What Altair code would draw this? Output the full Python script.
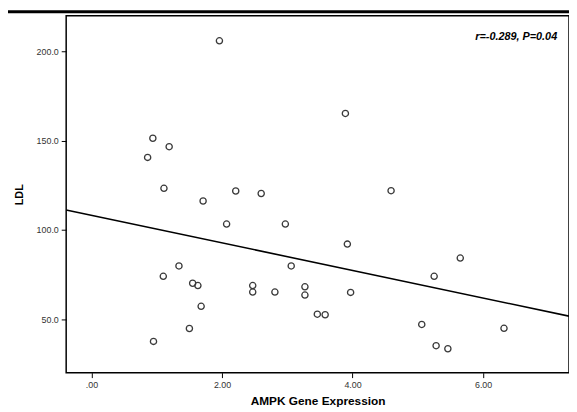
import altair as alt
import pandas as pd

# AMPK gene expression (x) vs LDL (y)
ampk = [1.96, 0.94, 1.19, 0.86, 1.11, 1.71, 2.21, 2.60, 2.07, 2.97, 1.34, 1.10,
        3.06, 1.55, 1.63, 2.47, 2.47, 2.81, 3.27, 3.27, 1.68, 1.50, 0.95, 3.89,
        4.59, 3.92, 5.65, 5.25, 3.97, 3.46, 3.58, 5.06, 6.32, 5.28, 5.46]
ldl = [205.8, 151.3, 146.6, 140.6, 123.3, 116.2, 121.8, 120.4, 103.3, 103.3,
       79.9, 74.1, 79.9, 70.2, 68.9, 68.9, 65.3, 65.3, 68.2, 63.6, 57.3, 44.9,
       37.7, 165.2, 122.0, 92.1, 84.3, 74.1, 65.1, 52.9, 52.6, 47.2, 45.0, 35.3,
       33.6]
# fit line as drawn in the reference (ends of the line)
fit_x = [-0.388, 7.316]
fit_y = [111.2, 51.8]
x_ticks = [0, 2, 4, 6]
y_ticks = [50, 100, 150, 200]
x_domain = [-0.388, 7.316]
y_domain = [20.2, 219.8]
annotation = "r=-0.289, P=0.04"

df = pd.DataFrame({"x": ampk, "y": ldl})
fit_df = pd.DataFrame({"x": fit_x, "y": fit_y})
FONT = "Liberation Sans"

xs = alt.Scale(domain=x_domain, zero=False, nice=False)
ys = alt.Scale(domain=y_domain, zero=False, nice=False)

x_enc = alt.X("x:Q", scale=xs, title="AMPK Gene Expression",
              axis=alt.Axis(values=x_ticks,
                            labelExpr="datum.value == 0 ? '.00' : format(datum.value, '.2f')",
                            titlePadding=6))
y_enc = alt.Y("y:Q", scale=ys, title="LDL",
              axis=alt.Axis(values=y_ticks, format=".1f", titlePadding=12))

points = alt.Chart(df).mark_point(shape="circle", filled=False, size=40,
                                  color="#3a3a3a", strokeWidth=1.3, opacity=1).encode(
    x=x_enc, y=y_enc)

fit = alt.Chart(fit_df).mark_line(color="black", strokeWidth=1.6, clip=True).encode(
    x=alt.X("x:Q", scale=xs), y=alt.Y("y:Q", scale=ys))

text = alt.Chart(pd.DataFrame({"t": [annotation]})).mark_text(
    align="right", baseline="middle", font=FONT, fontSize=11,
    fontWeight="bold", fontStyle="italic", color="black").encode(
    text="t:N", x=alt.value(498), y=alt.value(22))

top_rule = alt.Chart(pd.DataFrame({"t": [annotation]})).mark_rule(
    color="black", strokeWidth=3).encode(
    x=alt.value(-59), x2=alt.value(512), y=alt.value(-4))

chart = alt.layer(points, fit, text, top_rule).properties(
    width=510, height=362,
    autosize=alt.AutoSizeParams(type="none"),
    padding={"left": 59, "top": 5, "right": 0, "bottom": 37},
).configure_view(stroke="black", strokeWidth=1.5).configure_axis(
    grid=False, domain=False, ticks=True, tickColor="black", tickSize=5,
    tickWidth=1, labelFont=FONT, labelFontSize=9, labelColor="#333333",
    titleFont=FONT, titleFontSize=12, titleFontWeight="bold", titleColor="black",
    labelPadding=3,
).configure_axisY(titleFontSize=11)

chart.save("out.html", embed_options={"renderer": "svg", "actions": False})
